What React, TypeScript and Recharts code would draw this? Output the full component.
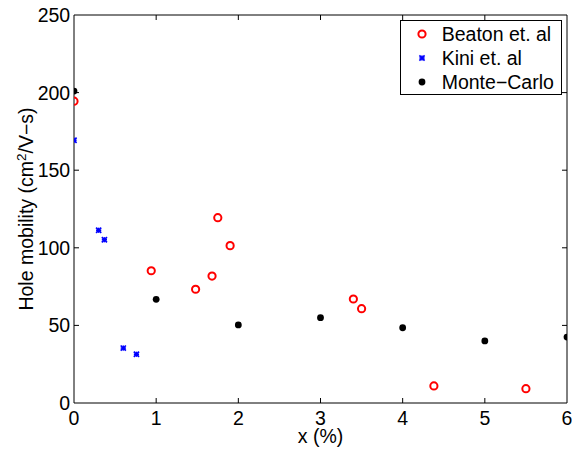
import React from 'react';
import { ScatterChart, Scatter, XAxis, YAxis, CartesianGrid } from 'recharts';

const beatonX = [0, 0.94, 1.48, 1.68, 1.75, 1.9, 3.4, 3.5, 4.38, 5.5];
const beatonY = [194.5, 85.2, 73.3, 81.8, 119.4, 101.4, 67, 60.8, 11, 9.2];
const kiniX = [0, 0.3, 0.37, 0.6, 0.76];
const kiniY = [169.3, 111.3, 105.2, 35.4, 31.4];
const mcX = [0, 1, 2, 3, 4, 5, 6];
const mcY = [201, 66.8, 50.3, 55, 48.5, 40, 42.5];
const xTicks = [0, 1, 2, 3, 4, 5, 6];
const yTicks = [0, 50, 100, 150, 200, 250];
const seriesNames = ['Beaton et. al', 'Kini et. al', 'Monte\u2212Carlo'];

const zip = (xs: number[], ys: number[]) => xs.map((x, i) => ({ x, y: ys[i] }));
const beaton = zip(beatonX, beatonY);
const kini = zip(kiniX, kiniY);
const mc = zip(mcX, mcY);

// layout
const W = 572;
const H = 449;
const MARGIN = { top: 15, right: 5, bottom: 0, left: 0 };
const YAXIS_W = 74;
const XAXIS_H = 46;
const PLOT_W = W - MARGIN.left - MARGIN.right - YAXIS_W;
const PLOT_H = H - MARGIN.top - MARGIN.bottom - XAXIS_H;

const FONT = '"Liberation Sans", Arial, Helvetica, sans-serif';
const FS = 19.5;
const TL = 5;

const innerX = xTicks.slice(1, -1);
const innerY = yTicks.slice(1, -1);
const maxX = xTicks[xTicks.length - 1];
const maxY = yTicks[yTicks.length - 1];

const Ring = ({ cx, cy }: any) => (
  <circle cx={cx} cy={cy} r={3.6} fill="none" stroke="#ff0000" strokeWidth={2} />
);
const Star = ({ cx, cy }: any) => {
  const s = 2.6;
  return (
    <g stroke="#0000ff" strokeWidth={1.6}>
      <line x1={cx - s} y1={cy - s} x2={cx + s} y2={cy + s} />
      <line x1={cx - s} y1={cy + s} x2={cx + s} y2={cy - s} />
      <line x1={cx - s} y1={cy} x2={cx + s} y2={cy} />
      <line x1={cx} y1={cy - s} x2={cx} y2={cy + s} />
    </g>
  );
};
const Dot = ({ cx, cy }: any) => <circle cx={cx} cy={cy} r={3.4} fill="#000" />;

const BottomTick = ({ x, y, payload }: any) => (
  <text x={x} y={y + 21.7} textAnchor="middle" fontSize={FS} fontFamily={FONT} fill="#000" stroke="none">
    {payload.value}
  </text>
);
const LeftTick = ({ x, y, payload }: any) => (
  <text x={x - 3.8} y={y + 7} textAnchor="end" fontSize={FS} fontFamily={FONT} fill="#000" stroke="none">
    {payload.value}
  </text>
);

const YLabel = ({ viewBox }: any) => {
  const vb = viewBox || { x: 0, y: MARGIN.top, width: YAXIS_W, height: PLOT_H };
  const cx = vb.x + 33;
  const cy = vb.y + vb.height / 2;
  return (
    <text transform={`translate(${cx},${cy}) rotate(-90)`} textAnchor="middle" fontSize={FS} fontFamily={FONT} fill="#000">
      Hole mobility (cm
      <tspan dy={-7} fontSize={13.5}>2</tspan>
      <tspan dy={7}>/V{'\u2212'}s)</tspan>
    </text>
  );
};

const XLabel = ({ viewBox }: any) => {
  const vb = viewBox || { x: YAXIS_W, y: MARGIN.top + PLOT_H, width: PLOT_W, height: XAXIS_H };
  return (
    <text x={vb.x + vb.width / 2} y={vb.y + 39.5} textAnchor="middle" fontSize={FS} fontFamily={FONT} fill="#000">
      x (%)
    </text>
  );
};

const markers = [Ring, Star, Dot];

const LegendBox = () => (
  <div
    style={{
      position: 'absolute',
      left: 400,
      top: 20,
      width: 162,
      height: 75,
      boxSizing: 'border-box',
      border: '1px solid #000',
      background: '#fff',
      fontFamily: FONT,
      fontSize: FS,
      color: '#000',
    }}
  >
    {seriesNames.map((name, i) => {
      const M = markers[i];
      return (
        <div key={name} style={{ position: 'absolute', left: 0, top: 1 + i * 24, height: 24, width: 160, lineHeight: '24px', whiteSpace: 'nowrap' }}>
          <svg width={14} height={24} style={{ position: 'absolute', left: 14, top: 0 }}>
            <M cx={7} cy={12} />
          </svg>
          <span style={{ position: 'absolute', left: 40.7, top: 0 }}>{name}</span>
        </div>
      );
    })}
  </div>
);

export default function App() {
  return (
    <div style={{ position: 'fixed', left: 0, top: 0, width: W, height: H, background: '#fff' }}>
      <ScatterChart width={W} height={H} margin={MARGIN}>
        {/* box: top and right edges */}
        <CartesianGrid horizontalValues={[maxY]} verticalValues={[maxX]} stroke="#000000" strokeWidth={1} />
        {/* inward tick marks on top and bottom edges */}
        <CartesianGrid
          horizontal={false}
          verticalValues={innerX}
          stroke="#000000"
          strokeWidth={1}
          strokeDasharray={`${TL} ${PLOT_H - 2 * TL} ${TL} 0`}
        />
        {/* inward tick marks on left and right edges */}
        <CartesianGrid
          vertical={false}
          horizontalValues={innerY}
          stroke="#000000"
          strokeWidth={1}
          strokeDasharray={`${TL} ${PLOT_W - 2 * TL} ${TL} 0`}
        />
        <XAxis
          type="number"
          dataKey="x"
          domain={[0, 6]}
          ticks={xTicks}
          orientation="bottom"
          height={XAXIS_H}
          tickSize={0}
          tickMargin={0}
          tickLine={false}
          axisLine={{ stroke: '#000000', strokeWidth: 1 }}
          tick={<BottomTick />}
          label={<XLabel />}
          allowDataOverflow
          interval={0}
        />
        <YAxis
          type="number"
          dataKey="y"
          domain={[0, 250]}
          ticks={yTicks}
          orientation="left"
          width={YAXIS_W}
          tickSize={0}
          tickMargin={0}
          tickLine={false}
          axisLine={{ stroke: '#000000', strokeWidth: 1 }}
          tick={<LeftTick />}
          label={<YLabel />}
          allowDataOverflow
          interval={0}
        />
        <Scatter name={seriesNames[0]} data={beaton} shape={<Ring />} isAnimationActive={false} />
        <Scatter name={seriesNames[1]} data={kini} shape={<Star />} isAnimationActive={false} />
        <Scatter name={seriesNames[2]} data={mc} shape={<Dot />} isAnimationActive={false} />
      </ScatterChart>
      <LegendBox />
    </div>
  );
}
